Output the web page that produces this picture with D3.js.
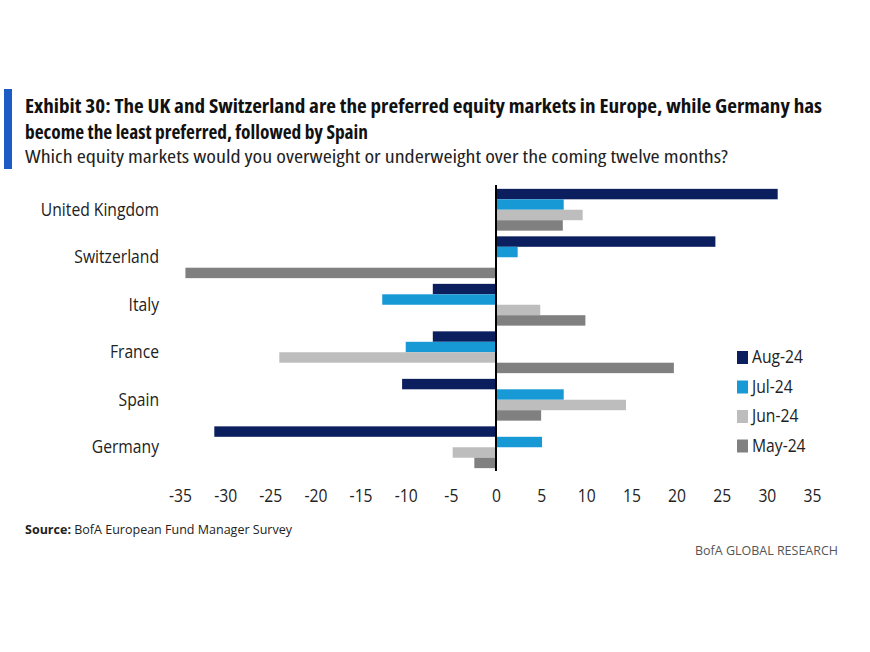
<!DOCTYPE html>
<html><head><meta charset="utf-8">
<script src="https://cdn.jsdelivr.net/npm/d3@7"></script>
<style>
body{margin:0;background:#fff;}
svg{display:block;}
text{font-family:"Open Sans","Liberation Sans",sans-serif;}
</style></head>
<body>
<svg id="chart" width="870" height="652"></svg>
<script>
const categories = ["United Kingdom","Switzerland","Italy","France","Spain","Germany"];
const seriesNames = ["Aug-24","Jul-24","Jun-24","May-24"];
const aug24 = [31.2, 24.3, -7, -7, -10.4, -31.2];
const jul24 = [7.5, 2.4, -12.6, -10, 7.5, 5.1];
const jun24 = [9.6, 0, 4.9, -24, 14.4, -4.8];
const may24 = [7.4, -34.4, 9.9, 19.7, 5, -2.4];
const xTicks = [-35,-30,-25,-20,-15,-10,-5,0,5,10,15,20,25,30,35];
const colors = ["#0b1f5e","#1799d6","#bdbdbd","#808080"];

const series = [aug24, jul24, jun24, may24];
const svg = d3.select("#chart");

function fitTo(sel, target){
  sel.each(function(){
    const w = this.getComputedTextLength();
    // shrink font-size only if natural width exceeds target, then pin width
    if (w > target){
      const fs = parseFloat(d3.select(this).attr("font-size"));
      d3.select(this).attr("font-size", fs*target/w);
    }
    d3.select(this).attr("textLength", target).attr("lengthAdjust","spacingAndGlyphs");
  });
}
function condense(sel, f){
  sel.each(function(){
    const w = this.getComputedTextLength();
    d3.select(this).attr("textLength", w*f).attr("lengthAdjust","spacingAndGlyphs");
  });
}

// Title block
svg.append("rect").attr("x",4).attr("y",89).attr("width",8).attr("height",80).attr("fill","#1d5cc4");
const t1 = svg.append("text").attr("x",25).attr("y",113).attr("font-size",19).attr("font-weight","bold").attr("fill","#111")
  .attr("font-stretch","semi-condensed")
  .text("Exhibit 30: The UK and Switzerland are the preferred equity markets in Europe, while Germany has");
fitTo(t1, 797);
const t2 = svg.append("text").attr("x",25).attr("y",139).attr("font-size",19).attr("font-weight","bold").attr("fill","#111")
  .attr("font-stretch","semi-condensed")
  .text("become the least preferred, followed by Spain");
fitTo(t2, 343);
const t3 = svg.append("text").attr("x",25).attr("y",163).attr("font-size",18).attr("fill","#222")
  .attr("font-stretch","semi-condensed")
  .text("Which equity markets would you overweight or underweight over the coming twelve months?");
fitTo(t3, 703);

const x = d3.scaleLinear().domain([-35,35]).range([180,812]);
const y = d3.scaleBand().domain(categories).range([186,471]).paddingInner(0.12).paddingOuter(0.06);
const ySub = d3.scaleBand().domain(seriesNames).range([0,y.bandwidth()]);

const g = svg.append("g");
categories.forEach((c,i)=>{
  series.forEach((s,j)=>{
    const v = s[i];
    g.append("rect")
      .attr("x", x(Math.min(0,v)))
      .attr("y", y(c)+ySub(seriesNames[j]))
      .attr("width", Math.abs(x(v)-x(0)))
      .attr("height", ySub.bandwidth())
      .attr("fill", colors[j]);
  });
});

// zero line
svg.append("line").attr("x1",x(0)).attr("x2",x(0)).attr("y1",185).attr("y2",471)
  .attr("stroke","#000").attr("stroke-width",2);

// category labels
const catG = svg.append("g");
categories.forEach(c=>{
  catG.append("text").attr("x",159).attr("y",y(c)+y.bandwidth()/2+6)
    .attr("text-anchor","end").attr("font-size",18).attr("fill","#222")
    .text(c);
});
condense(catG.selectAll("text"), 0.87);

// x axis (tick labels only)
const xAxis = d3.axisBottom(x).tickValues(xTicks).tickSize(0).tickPadding(0).tickFormat(d=>String(d));
const ax = svg.append("g").attr("transform","translate(0,489)").call(xAxis);
ax.select(".domain").remove();
ax.selectAll("text").attr("font-size",18).attr("fill","#222")
  .attr("font-family","'Open Sans','Liberation Sans',sans-serif").attr("dy","0.71em");
condense(ax.selectAll("text"), 0.87);

// legend
const leg = svg.append("g");
seriesNames.forEach((n,j)=>{
  const ly = 357 + j*29.5;
  leg.append("rect").attr("x",737).attr("y",ly-6).attr("width",11).attr("height",13).attr("fill",colors[j]);
  leg.append("text").attr("x",752).attr("y",ly+6).attr("font-size",18).attr("fill","#222").text(n);
});
condense(leg.selectAll("text"), 0.87);

// footer
const src = svg.append("text").attr("x",25).attr("y",534).attr("font-size",13).attr("fill","#222");
src.append("tspan").attr("font-weight","bold").text("Source:");
src.append("tspan").text(" BofA European Fund Manager Survey");
src.attr("textLength",267).attr("lengthAdjust","spacingAndGlyphs");
svg.append("text").attr("x",838).attr("y",555).attr("text-anchor","end").attr("font-size",13)
  .attr("fill","#555").attr("textLength",143).attr("lengthAdjust","spacingAndGlyphs").text("BofA GLOBAL RESEARCH");
</script>
</body></html>
